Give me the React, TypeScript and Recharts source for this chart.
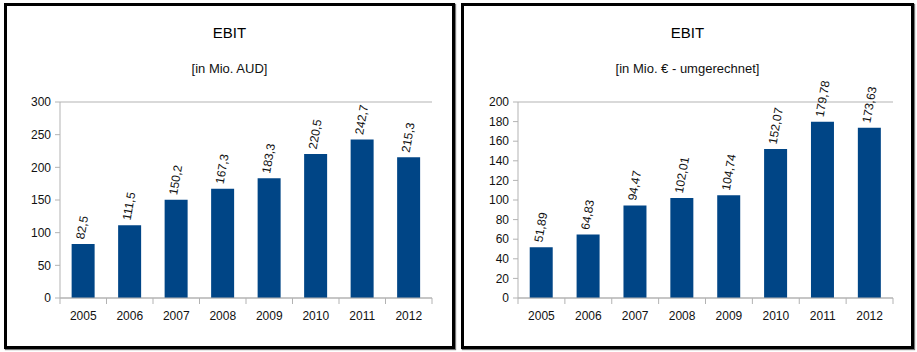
import { BarChart, Bar, XAxis, YAxis, CartesianGrid, LabelList } from 'recharts';

const years = ['2005', '2006', '2007', '2008', '2009', '2010', '2011', '2012'];
const ebitAud = [82.5, 111.5, 150.2, 167.3, 183.3, 220.5, 242.7, 215.3];
const ebitEur = [51.89, 64.83, 94.47, 102.01, 104.74, 152.07, 179.78, 173.63];
const audTicks = [0, 50, 100, 150, 200, 250, 300];
const eurTicks = [0, 20, 40, 60, 80, 100, 120, 140, 160, 180, 200];

const BAR_COLOR = '#004586';
const GRID = '#b3b3b3';
const FONT = '"Liberation Sans", Arial, sans-serif';

function formatDe(v: number): string {
  return String(v).replace('.', ',');
}

function RotatedLabel(props: any) {
  const { x, y, width, value } = props;
  const cx = x + width / 2 - 3;
  const ty = y - 5;
  return (
    <text
      x={cx}
      y={ty}
      transform={`rotate(-80 ${cx} ${ty})`}
      textAnchor="start"
      dominantBaseline="central"
      fontSize={12}
      fontFamily={FONT}
      fill="#111"
    >
      {formatDe(value)}
    </text>
  );
}

function makeXTick(band: number, count: number) {
  return function XTick(props: any) {
    const { x, y, payload, index } = props;
    const axisY = y - 8;
    return (
      <g>
        <line x1={x - band / 2} x2={x - band / 2} y1={axisY} y2={axisY + 6} stroke={GRID} />
        {index === count - 1 && (
          <line x1={x + band / 2} x2={x + band / 2} y1={axisY} y2={axisY + 6} stroke={GRID} />
        )}
        <text x={x} y={axisY + 22} textAnchor="middle" fontSize={12} fontFamily={FONT} fill="#111">
          {payload.value}
        </text>
      </g>
    );
  };
}

interface PanelProps {
  left: number;
  boxLeft: number;
  boxWidth: number;
  width: number;
  marginLeft: number;
  marginRight: number;
  subtitle: string;
  values: number[];
  ticks: number[];
}

function Panel({ left, boxLeft, boxWidth, width, marginLeft, marginRight, subtitle, values, ticks }: PanelProps) {
  const data = years.map((year, i) => ({ year, value: values[i] }));
  const plotWidth = width - marginLeft - 60 - marginRight;
  const band = plotWidth / years.length;
  const XTick = makeXTick(band, years.length);
  const center = boxLeft + boxWidth / 2;

  return (
    <>
      <div
        style={{
          position: 'absolute',
          left: boxLeft,
          top: 3,
          width: boxWidth,
          height: 346,
          border: '3px solid #000',
          boxSizing: 'border-box',
          background: '#fff',
          boxShadow: '1px 1px 1px #777',
        }}
      />
      <div
        style={{
          position: 'absolute',
          left: center - 150,
          width: 300,
          top: 23,
          textAlign: 'center',
          fontFamily: FONT,
          fontSize: 15,
          lineHeight: '20px',
          color: '#000',
        }}
      >
        EBIT
      </div>
      <div
        style={{
          position: 'absolute',
          left: center - 150,
          width: 300,
          top: 59,
          textAlign: 'center',
          fontFamily: FONT,
          fontSize: 13,
          lineHeight: '20px',
          color: '#111',
        }}
      >
        {subtitle}
      </div>
      <div style={{ position: 'absolute', left, top: 0 }}>
        <BarChart
          width={width}
          height={352}
          data={data}
          margin={{ top: 102, right: marginRight, bottom: 24, left: marginLeft }}
          barCategoryGap="25%"
        >
          <CartesianGrid vertical={false} stroke={GRID} />
          <XAxis
            dataKey="year"
            height={30}
            tickLine={false}
            axisLine={{ stroke: GRID }}
            tick={<XTick />}
            interval={0}
          />
          <YAxis
            yAxisId="left"
            width={60}
            domain={[ticks[0], ticks[ticks.length - 1]]}
            ticks={ticks}
            interval={0}
            axisLine={{ stroke: GRID }}
            tickLine={{ stroke: GRID }}
            tickSize={5}
            tickMargin={4}
            tick={{ fontSize: 12, fontFamily: FONT, fill: '#111' }}
          />
          <YAxis
            yAxisId="right"
            orientation="right"
            width={0}
            domain={[ticks[0], ticks[ticks.length - 1]]}
            tick={false}
            tickLine={false}
            axisLine={{ stroke: GRID }}
          />
          <Bar dataKey="value" yAxisId="left" fill={BAR_COLOR} isAnimationActive={false}>
            <LabelList dataKey="value" content={<RotatedLabel />} />
          </Bar>
        </BarChart>
      </div>
    </>
  );
}

export default function App() {
  return (
    <div style={{ position: 'absolute', left: 0, top: 0, width: 917, height: 352, background: '#fff' }}>
      <Panel
        left={0}
        boxLeft={4}
        boxWidth={451}
        width={460}
        marginLeft={0}
        marginRight={28}
        subtitle="[in Mio. AUD]"
        values={ebitAud}
        ticks={audTicks}
      />
      <Panel
        left={455}
        boxLeft={461}
        boxWidth={453}
        width={462}
        marginLeft={3}
        marginRight={24}
        subtitle="[in Mio. € - umgerechnet]"
        values={ebitEur}
        ticks={eurTicks}
      />
    </div>
  );
}
